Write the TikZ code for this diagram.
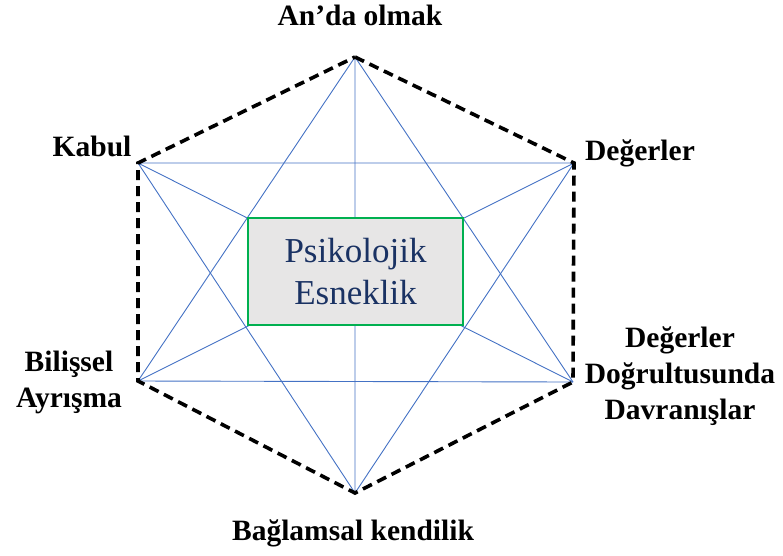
\documentclass[tikz,border=0pt]{standalone}
\usepackage{fontspec}
\setmainfont{Liberation Serif}
\definecolor{lineblue}{HTML}{4472C4}
\definecolor{boxgreen}{HTML}{00B050}
\definecolor{boxgray}{HTML}{E7E6E6}
\definecolor{textnavy}{HTML}{1A3263}
\tikzset{
  edge/.style={line width=3.6pt, dash pattern=on 10pt off 6pt},
  chord/.style={lineblue, line width=0.9pt},
  lbl/.style={font=\fontsize{29.5}{36}\selectfont\bfseries, align=center, inner sep=0pt}
}

\begin{document}
\begin{tikzpicture}[x=1pt,y=-1pt]
\useasboundingbox (0,0) rectangle (783,555);

% corners of the hexagon
\coordinate (T)  at (355,57);
\coordinate (TR) at (574,163);
\coordinate (BR) at (573,382);
\coordinate (B)  at (355,493);
\coordinate (BL) at (138,381);
\coordinate (TL) at (138,163);

% all diagonals
\draw [chord] (T)--(BL) (T)--(BR) (T)--(B);
\draw [chord] (TL)--(TR) (TL)--(BR) (TL)--(B);
\draw [chord] (TR)--(BL) (TR)--(B);
\draw [chord] (BL)--(BR);

\node (core) [draw=boxgreen, line width=1.6pt, fill=boxgray,
  minimum width=215pt, minimum height=107pt, align=center,
  text=textnavy, font=\fontsize{35}{42}\selectfont] at (355.5,271.5)
  {Psikolojik\\Esneklik};

%\draw [edge] (T)--(TR)--(BR)--(B)--(BL)--(TL)--cycle;
\draw [edge] (T)--(TR)--(BR)--(B)--(BL)--(TL)--(T);

\node (now)   [lbl, anchor=base] at (360,25)  {An’da olmak};
\node (kabul) [lbl, anchor=base] at (92,156)  {Kabul};
\node (deger) [lbl, anchor=base] at (640,160) {Değerler};
\node (davr)  [lbl] at (680,376) {Değerler\\Doğrultusunda\\Davranışlar};
\node (bilis) [lbl] at (69,382)  {Bilişsel\\Ayrışma};
\node (self)  [lbl, anchor=base] at (353,540) {Bağlamsal kendilik};
\end{tikzpicture}
\end{document}
